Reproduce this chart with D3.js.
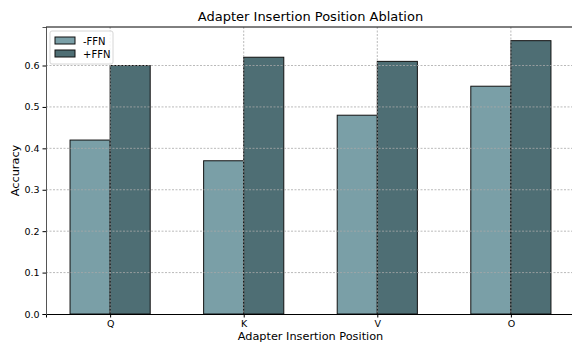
<!DOCTYPE html>
<html>
<head>
<meta charset="utf-8">
<script src="https://cdn.jsdelivr.net/npm/d3@7"></script>
<style>
  body { margin: 0; background: #fff; }
  svg { display: block; font-family: "DejaVu Sans", sans-serif; }
</style>
</head>
<body>
<div id="chart"></div>
<script>
// data
const positions = ['Q', 'K', 'V', 'O']
const noFFN = [0.42, 0.37, 0.48, 0.55]
const withFFN = [0.60, 0.62, 0.61, 0.66]
const seriesNames = ['-FFN', '+FFN']
const seriesColors = ['#7a9fa7', '#4e6e74']
const yTicks = [0.0, 0.1, 0.2, 0.3, 0.4, 0.5, 0.6]

const width = 572
const height = 342
const margin = {top: 27, right: -3, bottom: 28, left: 46}

const svg = d3.create('svg')
  .attr('width', width)
  .attr('height', height)
  .attr('viewBox', [0, 0, width, height])

document.getElementById('chart').appendChild(svg.node())

const barW = 0.3
const x = d3.scaleLinear()
  .domain([-0.48, 3.48])
  .range([margin.left, width - margin.right])

const y = d3.scaleLinear()
  .domain([0, 0.693])
  .range([height - margin.bottom, margin.top])

const series = [noFFN, withFFN]

// bars
series.forEach((vals, s) => {
  svg.append('g')
    .selectAll('rect')
    .data(vals)
    .join('rect')
      .attr('x', (d, i) => x(i + (s === 0 ? -barW : 0)))
      .attr('y', d => y(d))
      .attr('width', x(barW) - x(0))
      .attr('height', d => y(0) - y(d))
      .attr('fill', seriesColors[s])
      .attr('stroke', '#111')
      .attr('stroke-width', 1)
})

// grid on top of bars
const grid = svg.append('g')
  .attr('stroke', '#a8a8a8')
  .attr('stroke-width', 0.8)
  .attr('stroke-dasharray', '2,1.5')

grid.selectAll('.hg')
  .data(yTicks.slice(1))
  .join('line')
    .attr('x1', margin.left)
    .attr('x2', width)
    .attr('y1', d => y(d))
    .attr('y2', d => y(d))

grid.selectAll('.vg')
  .data(positions)
  .join('line')
    .attr('x1', (d, i) => x(i))
    .attr('x2', (d, i) => x(i))
    .attr('y1', margin.top)
    .attr('y2', height - margin.bottom)

// axes
const xAxis = svg.append('g')
  .attr('transform', `translate(0,${height - margin.bottom})`)
  .call(d3.axisBottom(x).tickValues([0, 1, 2, 3]).tickFormat(i => positions[i]).tickSizeOuter(0).tickSize(3.5))
xAxis.select('.domain').attr('stroke', '#000').attr('stroke-width', 1)

const yAxis = svg.append('g')
  .attr('transform', `translate(${margin.left},0)`)
  .call(d3.axisLeft(y).tickValues(yTicks).tickFormat(d3.format('.1f')).tickSizeOuter(0).tickSize(3.5))
yAxis.select('.domain').attr('stroke', '#555').attr('stroke-width', 1)

svg.selectAll('.tick text')
  .attr('font-size', 9.5)
  .attr('font-family', '"DejaVu Sans", sans-serif')
  .attr('fill', '#000')

// top spine
svg.append('line')
  .attr('x1', margin.left).attr('x2', width)
  .attr('y1', margin.top).attr('y2', margin.top)
  .attr('stroke', '#000').attr('stroke-width', 1)

// titles
svg.append('text')
  .attr('x', (margin.left + width - margin.right) / 2)
  .attr('y', 21)
  .attr('text-anchor', 'middle')
  .attr('font-size', 13)
  .text('Adapter Insertion Position Ablation')

svg.append('text')
  .attr('x', (margin.left + width - margin.right) / 2)
  .attr('y', 340)
  .attr('text-anchor', 'middle')
  .attr('font-size', 11.3)
  .text('Adapter Insertion Position')

svg.append('text')
  .attr('transform', `translate(19,${(margin.top + height - margin.bottom) / 2}) rotate(-90)`)
  .attr('text-anchor', 'middle')
  .attr('font-size', 11.3)
  .text('Accuracy')

// legend
const lg = svg.append('g').attr('transform', 'translate(50,31)')
lg.append('rect')
  .attr('width', 63).attr('height', 33)
  .attr('rx', 2)
  .attr('fill', '#fff').attr('fill-opacity', 0.85)
  .attr('stroke', '#d6d6d6')

const item = lg.selectAll('.item')
  .data(seriesNames)
  .join('g')
    .attr('transform', (d, i) => `translate(5,${6 + i * 13})`)
item.append('rect')
  .attr('width', 20).attr('height', 7)
  .attr('fill', (d, i) => seriesColors[i])
  .attr('stroke', '#111').attr('stroke-width', 1)
item.append('text')
  .attr('x', 28).attr('y', 7.5)
  .attr('font-size', 10)
  .text(d => d)
</script>
</body>
</html>
